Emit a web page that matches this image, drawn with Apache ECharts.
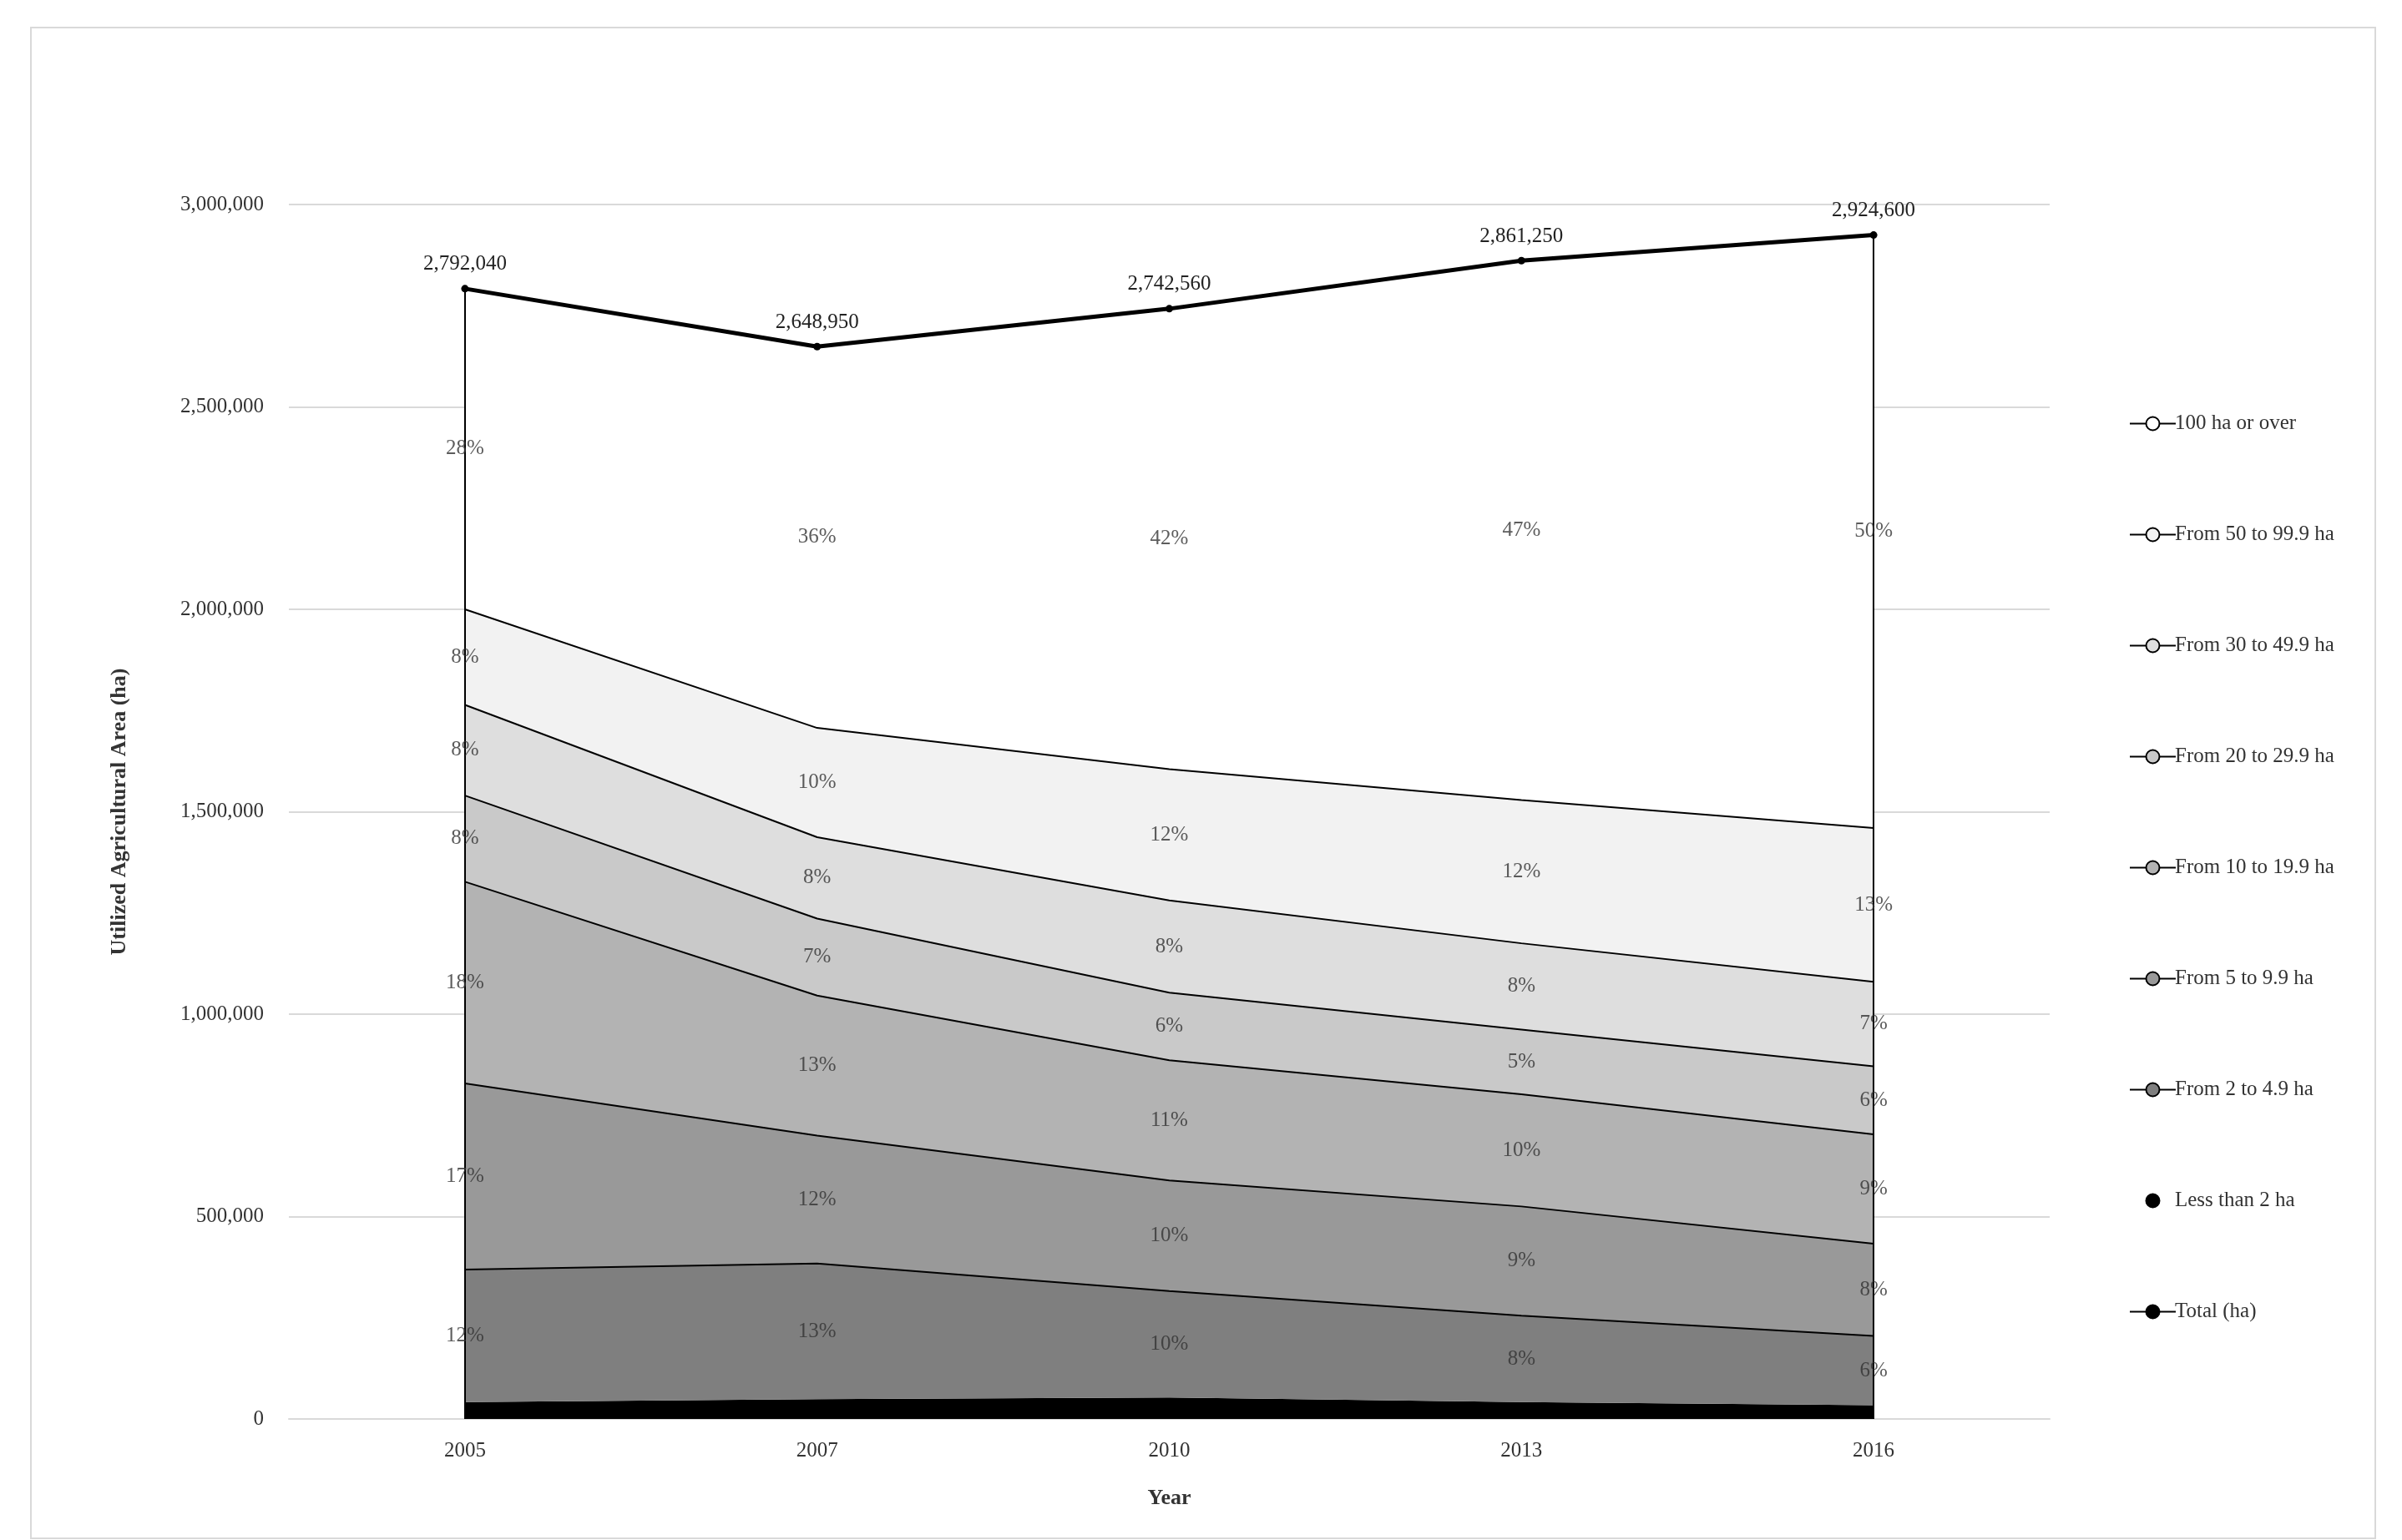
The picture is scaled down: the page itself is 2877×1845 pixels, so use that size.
<!DOCTYPE html>
<html><head><meta charset="utf-8">
<script src="https://cdn.jsdelivr.net/npm/echarts@6/dist/echarts.min.js"></script>
<style>html,body{margin:0;padding:0;background:#fff}#c{width:2877px;height:1845px}</style>
</head><body><div id="c"></div>
<script>
const years = ['2005','2007','2010','2013','2016'];
const seriesNames = ['Less than 2 ha','From 2 to 4.9 ha','From 5 to 9.9 ha','From 10 to 19.9 ha','From 20 to 29.9 ha','From 30 to 49.9 ha','From 50 to 99.9 ha','100 ha or over'];
const lt2 = [42000, 49000, 53000, 42000, 34000];
const s2to5 = [327000, 335000, 263000, 213000, 171000];
const s5to10 = [460000, 316000, 273000, 270000, 228000];
const s10to20 = [498000, 346000, 297000, 277000, 270000];
const s20to30 = [213000, 190000, 167000, 160000, 168000];
const s30to50 = [224000, 201000, 228000, 213000, 209000];
const s50to100 = [236000, 270000, 324000, 354000, 380000];
const total = [2792040, 2648950, 2742560, 2861250, 2924600];
const pctLabels = [
  [null,null,null,null,null],
  ['12%','13%','10%','8%','6%'],
  ['17%','12%','10%','9%','8%'],
  ['18%','13%','11%','10%','9%'],
  ['8%','7%','6%','5%','6%'],
  ['8%','8%','8%','8%','7%'],
  ['8%','10%','12%','12%','13%'],
  ['28%','36%','42%','47%','50%']
];
const colors = ['#000000','#7f7f7f','#999999','#b3b3b3','#c9c9c9','#dedede','#f2f2f2','#ffffff'];

const parts = [lt2, s2to5, s5to10, s10to20, s20to30, s30to50, s50to100];
const over100 = total.map((t,i)=>t - parts.reduce((a,p)=>a+p[i],0));
const allParts = parts.concat([over100]);

const font = 'Liberation Serif';
const series = [];
allParts.forEach((d,k)=>{
  series.push({
    name: seriesNames[k], type:'line', stack:'a', data:d, symbol:'none',
    lineStyle:{color:'#000', width: k===0?0:2},
    areaStyle:{color:colors[k], opacity:1},
    itemStyle:{color:colors[k], borderColor:'#000', borderWidth:2},
    z:2
  });
});
// percentage labels at band midpoints
allParts.forEach((d,k)=>{
  if(k===0) return;
  const mid = d.map((v,i)=>{
    let base=0; for(let j=0;j<k;j++) base+=allParts[j][i];
    return base + v/2;
  });
  series.push({
    type:'scatter', data: mid.map((v,i)=>({value:v, lbl:pctLabels[k][i]})), symbolSize:0, silent:true,
    label:{show:true, position:'inside', formatter:p=>p.data.lbl, fontFamily:font, fontSize:25, color:'#333'},
    z:5
  });
});
series.push({
  name:'Total (ha)', type:'line', data:total, symbol:'circle', symbolSize:9,
  lineStyle:{color:'#000', width:5}, itemStyle:{color:'#000'},
  label:{show:true, position:'top', distance:12, formatter:p=>p.value.toLocaleString('en-US'), fontFamily:font, fontSize:25, color:'#222'},
  markLine:{symbol:'none', silent:true, label:{show:false}, lineStyle:{color:'#000', width:2, type:'solid'},
    data:[
      [{coord:[years[0],0]},{coord:[years[0],total[0]]}],
      [{coord:[years[4],0]},{coord:[years[4],total[4]]}]
    ]},
  z:6
});

const chart = echarts.init(document.getElementById('c'));
chart.setOption({
  backgroundColor:'#fff',
  animation:false,
  graphic:[{type:'rect', shape:{x:37,y:33,width:2808,height:1810}, style:{fill:'none', stroke:'#d9d9d9', lineWidth:2}, silent:true}],
  grid:{left:346, right:422, top:245, bottom:145},
  legend:{
    orient:'vertical', left:2545, top:490, itemGap:108, itemWidth:55, itemHeight:20,
    data: seriesNames.slice().reverse().concat(['Total (ha)']),
    textStyle:{fontFamily:font, fontSize:25, color:'#333', padding:[0,0,0,-6]},
    itemStyle:{borderColor:'#000', borderWidth:2}
  },
  xAxis:{type:'category', data:years, boundaryGap:true,
    axisLine:{lineStyle:{color:'#d9d9d9', width:2}}, axisTick:{show:false},
    axisLabel:{fontFamily:font, fontSize:25, color:'#333', margin:26},
    name:'Year', nameLocation:'middle', nameGap:82, nameTextStyle:{fontFamily:font, fontSize:26, fontWeight:'bold', color:'#333'}},
  yAxis:{type:'value', min:0, max:3000000, interval:500000,
    axisLabel:{fontFamily:font, fontSize:25, color:'#333', margin:30, formatter:v=>v.toLocaleString('en-US')},
    splitLine:{lineStyle:{color:'#d9d9d9', width:2}}, axisLine:{show:false}, axisTick:{show:false},
    name:'Utilized Agricultural Area (ha)', nameLocation:'middle', nameGap:190, nameRotate:90,
    nameTextStyle:{fontFamily:font, fontSize:26, fontWeight:'bold', color:'#333'}},
  series: series
});
</script></body></html>
